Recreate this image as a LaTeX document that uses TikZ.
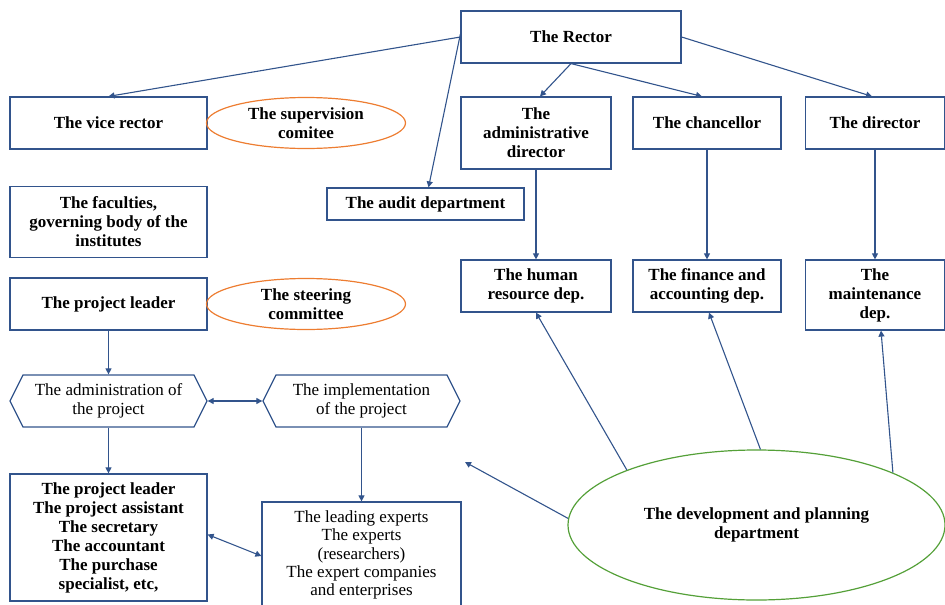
\documentclass[tikz,border=0pt]{standalone}
\usepackage{fontspec}
\setmainfont{Liberation Serif}
\usetikzlibrary{shapes.geometric,shapes.symbols,arrows.meta}
\definecolor{lineblue}{RGB}{50,84,140}
\definecolor{ovalorange}{RGB}{237,125,49}
\definecolor{ovalgreen}{RGB}{84,160,56}
\tikzset{
  unit/.style={draw=lineblue, line width=1.2pt, rectangle, align=center, inner sep=2pt,
    font=\fontsize{17}{19}\selectfont\bfseries},
  plainunit/.style={unit, font=\fontsize{17}{18.4}\selectfont},
  oval/.style={draw=ovalorange, line width=1.2pt, ellipse, inner sep=0pt, align=center,
    minimum width=199pt, minimum height=51pt, font=\fontsize{17}{19}\selectfont\bfseries},
  hexbox/.style={draw=lineblue, line width=1.2pt, signal, signal to=east and west,
    signal pointer angle=127, inner sep=0pt, align=center,
    minimum width=197pt, minimum height=52pt, font=\fontsize{17}{19}\selectfont},
  link/.style={draw=lineblue, line width=1.1pt, -{Triangle[length=6pt,width=6pt]}},
  twolink/.style={link, {Triangle[length=6pt,width=6pt]}-{Triangle[length=6pt,width=6pt]}}
}
\begin{document}
\begin{tikzpicture}[x=1pt, y=-1pt]
  \useasboundingbox (0,0) rectangle (945,605);

  % top of the university
  \node[unit, minimum width=220pt, minimum height=52pt] (rector) at (571,37) {The Rector};
  \node[unit, minimum width=197pt, minimum height=52pt] (vice) at (108.5,123) {The vice rector};
  \node[oval] (supervision) at (306,123) {The supervision\\comitee};
  \node[unit, minimum width=197pt, minimum height=71pt] (faculties) at (108.5,222) {The faculties,\\governing body of the\\institutes};
  \node[unit, minimum width=197pt, minimum height=32pt] (audit) at (425.5,204) {The audit department};

  % directors
  \node[unit, minimum width=150pt, minimum height=72pt] (admdir) at (536,133) {The\\administrative\\director};
  \node[unit, minimum width=148pt, minimum height=52pt] (chancellor) at (707,123) {The chancellor};
  \node[unit, minimum width=139pt, minimum height=52pt] (director) at (875,123) {The director};

  % departments
  \node[unit, minimum width=150pt, minimum height=52pt] (hr) at (536,286) {The human\\resource dep.};
  \node[unit, minimum width=148pt, minimum height=52pt] (finance) at (707,286) {The finance and\\accounting dep.};
  \node[unit, minimum width=139pt, minimum height=70pt] (maint) at (875,295) {The\\maintenance\\dep.};

  % the project
  \node[unit, minimum width=197pt, minimum height=52pt] (leader) at (108.5,304) {The project leader};
  \node[oval] (steering) at (306,304) {The steering\\committee};
  \node[hexbox] (admin) at (108.5,401) {The administration of\\the project};
  \node[hexbox] (impl) at (361.5,401) {The implementation\\of the project};
  \node[unit, minimum width=197pt, minimum height=127pt] (staff) at (108.5,537.5) {The project leader\\The project assistant\\The secretary\\The accountant\\The purchase\\specialist, etc,};
  \node[plainunit, minimum width=199pt, minimum height=106pt] (experts) at (361.5,555) {The leading experts\\The experts\\(researchers)\\The expert companies\\and enterprises};

  % development and planning
  \node[draw=ovalgreen, line width=1.2pt, ellipse, inner sep=0pt, align=center,
    minimum width=377pt, minimum height=150pt, font=\fontsize{17}{19}\selectfont\bfseries]
    (dev) at (756.5,525) {The development and planning\\department};
  \coordinate (free) at (465,462);

  % Arrows
  \draw[link] (rector.west) -- (vice.north);
  \draw[link] ([yshift=3pt]rector.west) -- ([xshift=3pt]audit.north);
  \draw[link] (rector.south) -- ([xshift=4pt]admdir.north);
  \draw[link] (rector.south) -- ([xshift=-5pt]chancellor.north);
  \draw[link] (rector.east) -- ([xshift=-3pt]director.north);
  \draw[link] (admdir.south) -- (hr.north);
  \draw[link] (chancellor.south) -- (finance.north);
  \draw[link] (director.south) -- (maint.north);
  \draw[link] (dev.157) -- (hr.south);
  \draw[link] (dev.87) -- ([xshift=2pt]finance.south);
  \draw[link] (dev.21) -- ([xshift=6pt]maint.south);
  \draw[link] (dev.178) -- (free);
  \draw[link] (leader.south) -- (admin.north);
  \draw[twolink] (admin.east) -- (impl.west);
  \draw[link] (admin.south) -- (staff.north);
  \draw[link] (impl.south) -- (experts.north);
  \draw[twolink] ([yshift=3pt]staff.east) -- ([yshift=-1pt]experts.west);
\end{tikzpicture}
\end{document}
